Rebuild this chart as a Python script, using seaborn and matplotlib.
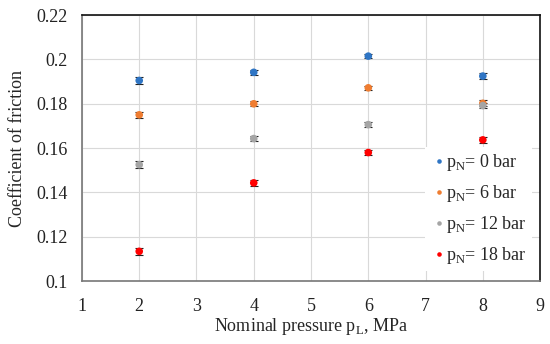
import numpy as np
import pandas as pd
import matplotlib
matplotlib.use('Agg')
import matplotlib.pyplot as plt
import seaborn as sns

pressure = [2, 4, 6, 8]
series = ['0', '6', '12', '18']
cof_0 = [0.1905, 0.1942, 0.2015, 0.1925]
cof_6 = [0.1750, 0.1800, 0.1872, 0.1802]
cof_12 = [0.1525, 0.1643, 0.1706, 0.1792]
cof_18 = [0.1134, 0.1443, 0.1580, 0.1637]
err = [0.0015, 0.0012, 0.0010, 0.0013]
colors = ['#2f75c4', '#ef7d31', '#a5a5a5', '#ff0000']
ytick_labels = ['0.1', '0.12', '0.14', '0.16', '0.18', '0.2', '0.22']

rows = []
for name, vals in zip(series, [cof_0, cof_6, cof_12, cof_18]):
    for p, v, e in zip(pressure, vals, err):
        rows.append({'p': p, 'cof': v, 'err': e, 'series': f'p$_\\mathregular{{N}}$= {name} bar'})
df = pd.DataFrame(rows)

sns.set_style('white')
plt.rcParams['font.family'] = ['Liberation Serif', 'DejaVu Serif']
plt.rcParams['mathtext.fontset'] = 'custom'
plt.rcParams['mathtext.rm'] = 'Liberation Serif'

fig = plt.figure(figsize=(5.5, 3.44), dpi=100)
ax = fig.add_axes([0.149, 0.183, 0.833, 0.773])

# error bars first, then the points on top
for lab in df['series'].unique():
    sub = df[df['series'] == lab]
    ax.errorbar(sub['p'], sub['cof'], yerr=sub['err'], fmt='none', ecolor='#222222',
                elinewidth=0.8, capsize=3, capthick=0.8, zorder=2)
sns.scatterplot(data=df, x='p', y='cof', hue='series', palette=colors, s=30,
                edgecolor='none', ax=ax, zorder=3)

ax.set_xlim(1, 9)
ax.set_ylim(0.1, 0.22)
ax.set_xticks(range(1, 10))
ax.set_yticks(np.arange(0.1, 0.2201, 0.02))
ax.set_yticklabels(ytick_labels)
ax.grid(True, color='#d9d9d9', linewidth=0.8)
ax.set_axisbelow(True)
for s in ax.spines.values():
    s.set_color('#111111')
    s.set_linewidth(1.2)
ax.spines['left'].set_color('#777777')
ax.spines['bottom'].set_color('#777777')
ax.tick_params(axis='both', labelsize=13, length=0, colors='#222222')
ax.tick_params(axis='x', pad=12)
ax.tick_params(axis='y', pad=10)
ax.set_xlabel('Nominal pressure p$_\\mathregular{L}$, MPa', fontsize=13, labelpad=1)
ax.set_ylabel('Coefficient of friction', fontsize=13, labelpad=8)

leg = ax.legend(loc='lower right', bbox_to_anchor=(0.995, 0.016), frameon=True, fontsize=13,
                handletextpad=-0.1, markerscale=0.6, labelspacing=0.55, borderpad=0.3,
                handlelength=1.0, borderaxespad=0.3, fancybox=False)
leg.get_frame().set_facecolor('white')
leg.get_frame().set_edgecolor('none')
leg.get_frame().set_alpha(1)

fig.savefig('out.png', dpi=100)
